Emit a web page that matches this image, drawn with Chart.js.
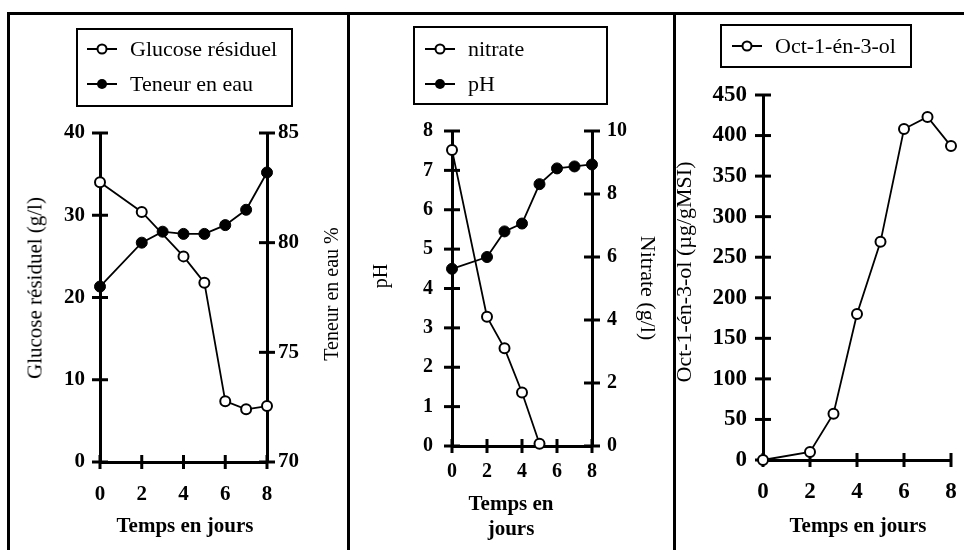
<!DOCTYPE html>
<html><head><meta charset="utf-8">
<script src="https://cdn.jsdelivr.net/npm/chart.js@4.4.1/dist/chart.umd.min.js"></script>
<style>
html,body{margin:0;padding:0;background:#fff;}
body{width:964px;height:550px;position:relative;overflow:hidden;font-family:'Liberation Serif','Times New Roman',serif;color:#000;}
canvas{position:absolute;top:0;}
.ln{position:absolute;background:#000;}
.lg{position:absolute;border:2px solid #000;box-sizing:border-box;}
.row{position:absolute;display:flex;align-items:center;white-space:nowrap;font-size:22px;transform:translateY(-50%);}
.row span{margin-left:13px;}
.t{position:absolute;white-space:nowrap;font-size:20px;transform:translate(-50%,-50%);line-height:1;}
.b{font-weight:bold;font-size:21px;}
</style></head><body>

<div class="ln" style="left:7px;top:12px;width:957px;height:3px"></div>
<div class="ln" style="left:7px;top:12px;width:3px;height:538px"></div>
<div class="ln" style="left:347px;top:12px;width:3px;height:538px"></div>
<div class="ln" style="left:673px;top:12px;width:3px;height:538px"></div>

<canvas id="c1" width="347" height="550" style="left:0px"></canvas>
<canvas id="c2" width="326" height="550" style="left:349px"></canvas>
<canvas id="c3" width="289" height="550" style="left:675px"></canvas>

<!-- legends -->
<div class="lg" style="left:76px;top:28px;width:217px;height:79px"></div>
<div class="row" style="left:87px;top:49px"><svg width="30" height="14"><line x1="0" y1="7" x2="30" y2="7" stroke="#000" stroke-width="2"/><circle cx="15" cy="7" r="4.5" fill="#fff" stroke="#000" stroke-width="2"/></svg><span>Glucose résiduel</span></div>
<div class="row" style="left:87px;top:84px"><svg width="30" height="14"><line x1="0" y1="7" x2="30" y2="7" stroke="#000" stroke-width="2"/><circle cx="15" cy="7" r="5" fill="#000"/></svg><span>Teneur en eau</span></div>

<div class="lg" style="left:413px;top:26px;width:195px;height:79px"></div>
<div class="row" style="left:425px;top:49px"><svg width="30" height="14"><line x1="0" y1="7" x2="30" y2="7" stroke="#000" stroke-width="2"/><circle cx="15" cy="7" r="4.5" fill="#fff" stroke="#000" stroke-width="2"/></svg><span>nitrate</span></div>
<div class="row" style="left:425px;top:84px"><svg width="30" height="14"><line x1="0" y1="7" x2="30" y2="7" stroke="#000" stroke-width="2"/><circle cx="15" cy="7" r="5" fill="#000"/></svg><span>pH</span></div>

<div class="lg" style="left:720px;top:24px;width:192px;height:44px"></div>
<div class="row" style="left:732px;top:46px"><svg width="30" height="14"><line x1="0" y1="7" x2="30" y2="7" stroke="#000" stroke-width="2"/><circle cx="15" cy="7" r="4.5" fill="#fff" stroke="#000" stroke-width="2"/></svg><span>Oct-1-én-3-ol</span></div>

<!-- axis titles -->
<div class="t" style="left:35px;top:288px;font-size:21px;transform:translate(-50%,-50%) rotate(-90deg)">Glucose résiduel (g/l)</div>
<div class="t" style="left:331px;top:294px;transform:translate(-50%,-50%) rotate(-90deg)">Teneur en eau %</div>
<div class="t b" style="left:185px;top:525px">Temps en jours</div>

<div class="t" style="left:380px;top:276px;transform:translate(-50%,-50%) rotate(-90deg)">pH</div>
<div class="t" style="left:648px;top:288px;font-size:22px;transform:translate(-50%,-50%) rotate(90deg)">Nitrate (g/l)</div>
<div class="t b" style="left:511px;top:503px">Temps en</div>
<div class="t b" style="left:511px;top:528px">jours</div>

<div class="t" style="left:684px;top:272px;font-size:22px;transform:translate(-50%,-50%) rotate(-90deg)">Oct-1-én-3-ol (µg/gMSI)</div>
<div class="t b" style="left:858px;top:525px">Temps en jours</div>

<script>
// ---- data ----
const dayGlucose = [0, 2, 4, 5, 6, 7, 8];
const glucose    = [34.0, 30.4, 25.0, 21.8, 7.4, 6.4, 6.8];
const dayEau     = [0, 2, 3, 4, 5, 6, 7, 8];
const teneurEau  = [78.0, 80.0, 80.5, 80.4, 80.4, 80.8, 81.5, 83.2];
const dayNitrate = [0, 2, 3, 4, 5];
const nitrate    = [9.4, 4.1, 3.1, 1.7, 0.07];
const dayPH      = [0, 2, 3, 4, 5, 6, 7, 8];
const pH         = [4.5, 4.8, 5.45, 5.65, 6.65, 7.05, 7.1, 7.15];
const dayOct     = [0, 2, 3, 4, 5, 6, 7, 8];
const octenol    = [0, 10, 57, 180, 269, 408, 423, 387];
// axis ranges / steps
const dayAxis    = {min: 0, max: 8, step: 2};
const glucoseAxis= {min: 0, max: 40, step: 10};
const eauAxis    = {min: 70, max: 85, step: 5};
const pHAxis     = {min: 0, max: 8, step: 1};
const nitrateAxis= {min: 0, max: 10, step: 2};
const octAxis    = {min: 0, max: 450, step: 50};

const FONT = "'Liberation Serif','Times New Roman',serif";
const pts = (xs, ys) => xs.map((x, i) => ({x: x, y: ys[i]}));

function sizeW(w){ return s => { s.width = w; s.paddingTop = 0; s.paddingBottom = 0; s.paddingLeft = 0; s.paddingRight = 0; }; }
function sizeH(h){ return s => { s.height = h; s.paddingTop = 0; s.paddingBottom = 0; s.paddingLeft = 0; s.paddingRight = 0; }; }

const crossTicks = {
  id: 'crossTicks',
  beforeDatasetsDraw(chart, args, opts) {
    const ctx = chart.ctx;
    ctx.save();
    ctx.strokeStyle = '#000';
    ctx.lineWidth = 3;
    Object.values(chart.scales).forEach(s => {
      const L = opts[s.id];
      if (!L) return;
      s.ticks.forEach(t => {
        const p = s.getPixelForValue(t.value);
        ctx.beginPath();
        if (s.isHorizontal()) {
          const y = s.top;
          ctx.moveTo(p, y - L); ctx.lineTo(p, y + L);
        } else {
          const x = s.position === 'left' ? s.right : s.left;
          ctx.moveTo(x - L, p); ctx.lineTo(x + L, p);
        }
        ctx.stroke();
      });
    });
    ctx.restore();
  }
};

function axisCfg(range, position, fontSize, pad, fit) {
  return {
    type: 'linear', position: position,
    min: range.min, max: range.max,
    ticks: {stepSize: range.step, color: '#000', padding: pad,
            font: {family: FONT, size: fontSize, weight: 'bold'}},
    grid: {display: false, drawTicks: false},
    border: {display: true, color: '#000', width: 3},
    afterFit: fit
  };
}

function openDs(data, axis) {
  return {data: data, yAxisID: axis, borderColor: '#000', borderWidth: 1.8, clip: false,
          pointBackgroundColor: '#fff', pointBorderColor: '#000', pointBorderWidth: 2,
          pointRadius: 5, tension: 0, fill: false};
}
function filledDs(data, axis) {
  return {data: data, yAxisID: axis, borderColor: '#000', borderWidth: 1.8, clip: false,
          pointBackgroundColor: '#000', pointBorderColor: '#000', pointBorderWidth: 1,
          pointRadius: 5.5, tension: 0, fill: false};
}

const common = {
  responsive: false, animation: false, devicePixelRatio: 1,
  plugins: {legend: {display: false}, tooltip: {enabled: false}}
};

// Panel 1: chart area x 100..267, y 133..462 (canvas 347x550)
new Chart(document.getElementById('c1'), {
  type: 'line',
  data: {datasets: [
    openDs(pts(dayGlucose, glucose), 'y'),
    filledDs(pts(dayEau, teneurEau), 'y2')
  ]},
  options: Object.assign({}, common, {
    layout: {padding: {top: 133, left: 0, right: 0, bottom: 0}},
    plugins: Object.assign({}, common.plugins, {crossTicks: {x: 7, y: 8, y2: 8}}),
    scales: {
      x: axisCfg(dayAxis, 'bottom', 21, 20, sizeH(550 - 462)),
      y: axisCfg(glucoseAxis, 'left', 21, 15, sizeW(100)),
      y2: axisCfg(eauAxis, 'right', 21, 11, sizeW(347 - 267))
    }
  }),
  plugins: [crossTicks]
});

// Panel 2: page x 452..592, y 131..446 (canvas left 349)
new Chart(document.getElementById('c2'), {
  type: 'line',
  data: {datasets: [
    openDs(pts(dayNitrate, nitrate), 'y2'),
    filledDs(pts(dayPH, pH), 'y')
  ]},
  options: Object.assign({}, common, {
    layout: {padding: {top: 131, left: 0, right: 0, bottom: 0}},
    plugins: Object.assign({}, common.plugins, {crossTicks: {x: 7, y: 8, y2: 8}}),
    scales: {
      x: axisCfg(dayAxis, 'bottom', 20, 14, sizeH(550 - 446)),
      y: axisCfg(pHAxis, 'left', 20, 19, sizeW(452 - 349)),
      y2: axisCfg(nitrateAxis, 'right', 20, 15, sizeW(675 - 592))
    }
  }),
  plugins: [crossTicks]
});

// Panel 3: page x 763..951, y 95..460 (canvas left 675)
new Chart(document.getElementById('c3'), {
  type: 'line',
  data: {datasets: [
    openDs(pts(dayOct, octenol), 'y')
  ]},
  options: Object.assign({}, common, {
    layout: {padding: {top: 95, left: 0, right: 964 - 951, bottom: 0}},
    plugins: Object.assign({}, common.plugins, {crossTicks: {x: 7, y: 8}}),
    scales: {
      x: axisCfg(dayAxis, 'bottom', 23, 18, sizeH(550 - 460)),
      y: axisCfg(octAxis, 'left', 23, 16, sizeW(763 - 675))
    }
  }),
  plugins: [crossTicks]
});
</script>
</body></html>
